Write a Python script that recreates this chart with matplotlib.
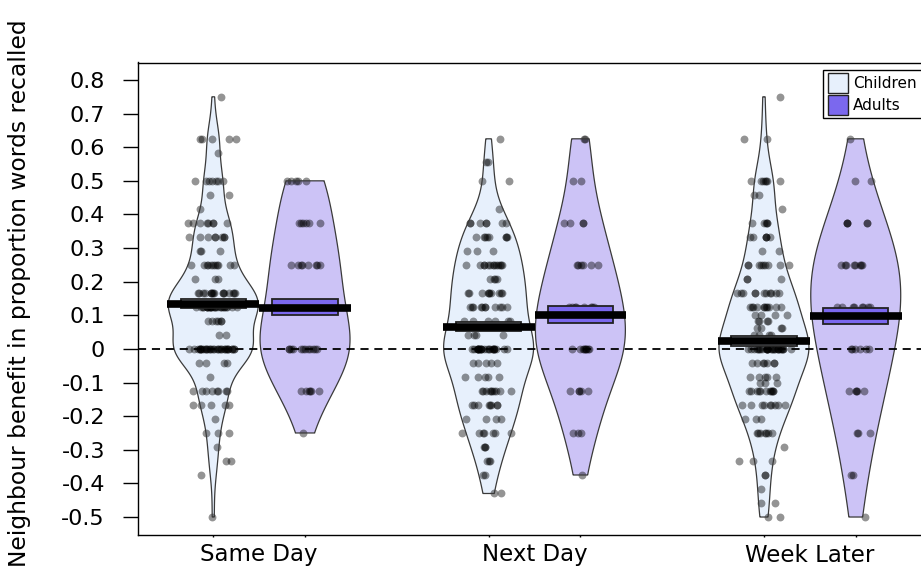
import numpy as np
import matplotlib
matplotlib.use("Agg")
import matplotlib.pyplot as plt
from matplotlib.patches import Rectangle, Polygon
from matplotlib.transforms import blended_transform_factory

plt.rcParams['font.family'] = ['DejaVu Sans']

# ---------------- data ----------------
groups = ['Same Day', 'Next Day', 'Week Later']
ages = ['Children', 'Adults']
positions = [1, 2, 4, 5, 7, 8]

sd_child_levels = [0.75, 0.625, 0.583, 0.5, 0.458, 0.417, 0.375, 0.333, 0.292, 0.25, 0.208,
                   0.167, 0.125, 0.083, 0.042, 0.0, -0.042, -0.083, -0.125, -0.167, -0.208,
                   -0.25, -0.292, -0.333, -0.375, -0.5]
sd_child_counts = [1, 5, 1, 7, 2, 1, 8, 8, 3, 11, 3, 16, 26, 6, 2, 32, 4, 1, 8, 5, 1, 3, 1, 2, 1, 1]

sd_adult_levels = [0.5, 0.375, 0.25, 0.125, 0.0, -0.125, -0.25]
sd_adult_counts = [5, 6, 8, 8, 12, 6, 1]

nd_child_levels = [0.625, 0.556, 0.5, 0.417, 0.375, 0.333, 0.292, 0.25, 0.208, 0.167, 0.125,
                   0.083, 0.042, 0.0, -0.042, -0.083, -0.125, -0.167, -0.208, -0.25, -0.292,
                   -0.333, -0.375, -0.43]
nd_child_counts = [1, 2, 2, 1, 7, 8, 3, 13, 4, 10, 11, 6, 4, 24, 5, 5, 10, 8, 4, 7, 3, 3, 2, 2]

nd_adult_levels = [0.625, 0.5, 0.375, 0.25, 0.125, 0.0, -0.125, -0.25, -0.375]
nd_adult_counts = [2, 2, 4, 6, 8, 9, 5, 3, 1]

wl_child_levels = [0.75, 0.625, 0.5, 0.458, 0.417, 0.375, 0.333, 0.292, 0.25, 0.208, 0.167,
                   0.125, 0.1, 0.083, 0.063, 0.042, 0.0, -0.042, -0.083, -0.1, -0.125, -0.167,
                   -0.208, -0.25, -0.292, -0.333, -0.375, -0.417, -0.458, -0.5]
wl_child_counts = [1, 2, 7, 2, 1, 5, 6, 2, 9, 3, 11, 11, 4, 4, 4, 4, 28, 7, 5, 3, 11, 9, 3, 7,
                   1, 3, 2, 1, 2, 2]

wl_adult_levels = [0.625, 0.5, 0.375, 0.25, 0.125, 0.0, -0.125, -0.25, -0.375, -0.5]
wl_adult_counts = [1, 2, 5, 8, 8, 6, 5, 3, 2, 1]

# group means (bar) and inference band
means = [0.135, 0.123, 0.066, 0.100, 0.024, 0.099]
inf_low = [0.121, 0.100, 0.052, 0.078, 0.010, 0.075]
inf_high = [0.149, 0.150, 0.080, 0.129, 0.038, 0.123]

yticks = [-0.5, -0.4, -0.3, -0.2, -0.1, 0.0, 0.1, 0.2, 0.3, 0.4, 0.5, 0.6, 0.7, 0.8]
ytick_labels = ['-0.5', '-0.4', '-0.3', '-0.2', '-0.1', '0', '0.1', '0.2', '0.3', '0.4',
                '0.5', '0.6', '0.7', '0.8']
ylabel = 'Neighbour benefit in proportion words recalled'

# ---------------- style ----------------
bean_fill = ['#E7F0FC', '#CCC3F6']
inf_fill = ['#E7F0FC', '#7B68EE']
legend_fill = ['#E7F0FC', '#7B68EE']
edge_col = '#3a3a3a'
bw_adjust = [0.95, 1.22]
W, H = 921, 580
width_max = 0.49

fig = plt.figure(figsize=(W / 100, H / 100), dpi=100)
ax_l, ax_r, ax_t, ax_b = 138, 931, 62.5, 534.5
ax = fig.add_axes([ax_l / W, 1 - ax_b / H, (ax_r - ax_l) / W, (ax_b - ax_t) / H])
ax.set_xlim(0.18, 8.82)
ax.set_ylim(-0.552, 0.852)


def bean_density(vals, adjust):
    v = np.asarray(vals, float)
    n = len(v)
    sd = v.std(ddof=1)
    q75, q25 = np.percentile(v, [75, 25])
    lo = min(sd, (q75 - q25) / 1.34)
    bw = 0.9 * lo * n ** -0.2 * adjust
    y = np.linspace(v.min(), v.max(), 512)
    d = np.exp(-0.5 * ((y[:, None] - v[None, :]) / bw) ** 2).sum(1)
    return y, d / d.max()


def spread_unit(k):
    # deterministic hash in [0, 1) used only for horizontal point spreading
    return (np.sin(k * 12.9898 + 78.233) * 43758.5453) % 1


datasets = [
    (sd_child_levels, sd_child_counts), (sd_adult_levels, sd_adult_counts),
    (nd_child_levels, nd_child_counts), (nd_adult_levels, nd_adult_counts),
    (wl_child_levels, wl_child_counts), (wl_adult_levels, wl_adult_counts),
]

for i, ((lv, ct), pos) in enumerate(zip(datasets, positions)):
    kind = i % 2
    vals = np.repeat(np.array(lv, float), ct)
    yy, dd = bean_density(vals, bw_adjust[kind])
    xs = np.concatenate([pos + dd * width_max, (pos - dd * width_max)[::-1]])
    ys = np.concatenate([yy, yy[::-1]])
    ax.add_patch(Polygon(np.column_stack([xs, ys]), closed=True, facecolor=bean_fill[kind],
                         edgecolor='none', zorder=1))
    ax.add_patch(Polygon(np.column_stack([xs, ys]), closed=True, facecolor='none',
                         edgecolor=edge_col, lw=0.9, zorder=3))
    k = np.arange(len(vals)) + 1000 * (i + 1)
    u1 = spread_unit(k)
    u2 = spread_unit(k + 0.5)
    spread = 0.30 if kind == 0 else 0.22
    ax.scatter(pos + spread * (u1 + u2 - 1), vals, s=32, color='black', alpha=0.42,
               linewidths=0, zorder=2)
    # inference band
    ax.add_patch(Rectangle((pos - 0.355, inf_low[i]), 0.71, inf_high[i] - inf_low[i],
                           facecolor=inf_fill[kind], edgecolor='#222222', lw=1.3, zorder=4))
    # mean line
    ax.plot([pos - 0.5, pos + 0.5], [means[i], means[i]], color='black', lw=5.5,
            solid_capstyle='butt', zorder=6)

ax.axhline(0, color='black', lw=1.3, ls=(0, (4.5, 3.2)), zorder=5)

# axes styling
for s in ax.spines.values():
    s.set_linewidth(1.0)
ax.set_yticks(yticks)
ax.set_yticklabels(ytick_labels)
ax.tick_params(axis='y', length=10.8, width=1.0, pad=13, labelsize=16)
ax.set_xticks(positions)
ax.set_xticklabels([''] * len(positions))
ax.tick_params(axis='x', length=1.5, width=1.0)

trans = blended_transform_factory(ax.transData, fig.transFigure)
for g, name in enumerate(groups):
    cx = (positions[2 * g] + positions[2 * g + 1]) / 2
    ax.text(cx, 1 - 561.5 / H, name, transform=trans, ha='center', va='baseline', fontsize=16.5)

fig.text(20 / W, 1 - 293 / H, ylabel, rotation=90, ha='center', va='center', fontsize=16.8)


# legend (pixel placement)
def fx(x):
    return x / W


def fy(y):
    return 1 - y / H


fig.add_artist(Rectangle((fx(823), fy(117.5)), fx(929) - fx(823), fy(70) - fy(117.5),
                         transform=fig.transFigure, facecolor='white', edgecolor='black',
                         lw=1.0, zorder=10))
for j, (lab, yc) in enumerate(zip(ages, [83, 105])):
    fig.add_artist(Rectangle((fx(828), fy(yc + 10)), fx(848) - fx(828), fy(yc - 10) - fy(yc + 10),
                             transform=fig.transFigure, facecolor=legend_fill[j],
                             edgecolor='#222222', lw=1.0, zorder=11))
    fig.text(fx(853), fy(yc), lab, ha='left', va='center', fontsize=11, zorder=12)

fig.savefig('out.png', dpi=100)
